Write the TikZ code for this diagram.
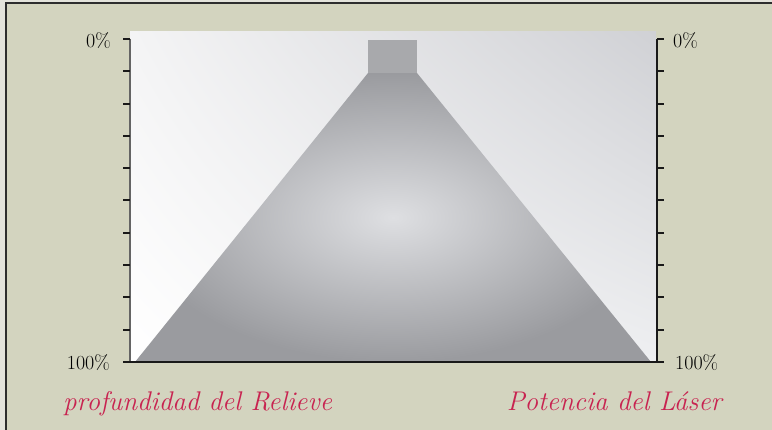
\documentclass[tikz,border=0pt]{standalone}
\usepackage{fontspec}
\usetikzlibrary{positioning, shadings}
\definecolor{fondo}{RGB}{211,212,191}
\definecolor{margen}{RGB}{227,227,219}
\definecolor{marco}{RGB}{45,45,45}
\definecolor{rosa}{RGB}{200,35,80}
\definecolor{cono}{RGB}{154,155,159}
\definecolor{conoclaro}{RGB}{222,223,226}
\definecolor{conotope}{RGB}{168,169,172}
\definecolor{ejegris}{RGB}{100,100,100}
\definecolor{gradA}{RGB}{244,244,245}
\definecolor{gradB}{RGB}{208,209,213}
\definecolor{gradC}{RGB}{238,239,241}

\begin{document}
\begin{tikzpicture}[x=1pt, y=-1pt,
        marca/.style={line width=2pt, black!90},
        etiqueta/.style={inner sep=0pt, font=\fontsize{20}{24}\selectfont, text=black},
        titulo/.style={inner sep=0pt, font=\fontsize{27}{32}\selectfont\itshape, text=rosa}]
        \useasboundingbox (0,0) rectangle (772,430);
        \clip (0,0) rectangle (772,430);

        % Marco
        \fill[margen] (0,0) rectangle (772,430);
        \filldraw[fill=fondo, draw=marco, line width=2pt] (6,3) rectangle (790,450);

        % Fondo degradado
        \shade[upper left=gradA, upper right=gradB, lower left=white, lower right=gradC]
            (130,32) rectangle (656,362);

        % Cono
        \shade[inner color=conoclaro, outer color=cono]
            (135,362) -- (368,73) -- (417,73) -- (651,362) -- cycle;
        \fill[conotope] (368,40) rectangle (417,73);

        % Ejes
        \coordinate (izqA) at (130,39);
        \coordinate (izqB) at (130,362);
        \coordinate (derA) at (657,39);
        \coordinate (derB) at (657,362);
        \draw[ejegris, line width=1.5pt] (izqA) -- (izqB);
        \draw[marca] (derA) -- (derB);
        \foreach \i in {0,...,10} {
            \draw[marca] (123,39+32.3*\i) -- (130,39+32.3*\i);
            \draw[marca] (657,39+32.3*\i) -- (664,39+32.3*\i);
        }
        \draw[marca] (123,362) -- (664,362);

        % Etiquetas
        \node[etiqueta, anchor=base east] (izq0) at (111,47.5) {0\%};
        \node[etiqueta, anchor=base east] (izq100) at (110,369.5) {100\%};
        \node[etiqueta, anchor=base west] (der0) at (673,47.5) {0\%};
        \node[etiqueta, anchor=base west] (der100) at (675,369.5) {100\%};

        \node[titulo, anchor=base west] (relieve) at (63,411) {profundidad del Relieve};
        \node[titulo, anchor=base east] (laser) at (722,411) {Potencia del Láser};
    \end{tikzpicture}
\end{document}
